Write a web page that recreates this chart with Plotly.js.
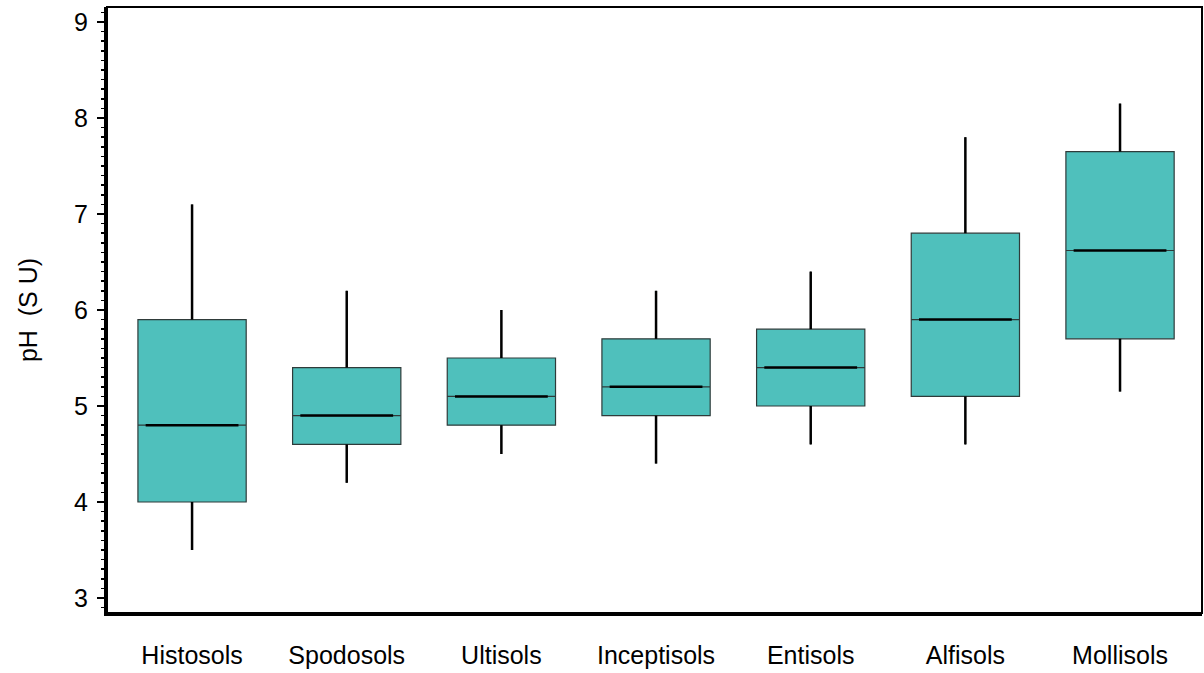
<!DOCTYPE html>
<html>
<head>
<meta charset="utf-8">
<script src="https://cdn.plot.ly/plotly-3.0.1.min.js"></script>
<style>html,body{margin:0;padding:0;background:#fff;}#chart{width:1204px;height:673px;}</style>
</head>
<body>
<div id="chart"></div>
<script>
var categories = ["Histosols", "Spodosols", "Ultisols", "Inceptisols", "Entisols", "Alfisols", "Mollisols"];
var lowerWhisker = [3.5, 4.2, 4.5, 4.4, 4.6, 4.6, 5.15];
var q1Values = [4.0, 4.6, 4.8, 4.9, 5.0, 5.1, 5.7];
var medianValues = [4.8, 4.9, 5.1, 5.2, 5.4, 5.9, 6.62];
var q3Values = [5.9, 5.4, 5.5, 5.7, 5.8, 6.8, 7.65];
var upperWhisker = [7.1, 6.2, 6.0, 6.2, 6.4, 7.8, 8.15];

var pos = categories.map(function(c, i){ return i; });

var boxTrace = {
  type: 'box',
  x: pos,
  q1: q1Values,
  median: medianValues,
  q3: q3Values,
  lowerfence: lowerWhisker,
  upperfence: upperWhisker,
  width: 0.70,
  whiskerwidth: 0,
  fillcolor: '#4FC0BC',
  line: {color: '#2f3b3a', width: 1.2},
  boxpoints: false,
  hoverinfo: 'skip',
  showlegend: false
};

var wx = [], wy = [], mx = [], my = [];
pos.forEach(function(p, i){
  wx.push(p, p, null, p, p, null);
  wy.push(upperWhisker[i], q3Values[i], null, q1Values[i], lowerWhisker[i], null);
  mx.push(p - 0.30, p + 0.30, null);
  my.push(medianValues[i], medianValues[i], null);
});

var whiskers = {
  type: 'scatter', mode: 'lines', x: wx, y: wy,
  line: {color: '#000', width: 2.5}, hoverinfo: 'skip', showlegend: false, connectgaps: false
};
var medians = {
  type: 'scatter', mode: 'lines', x: mx, y: my,
  line: {color: '#000', width: 2.5}, hoverinfo: 'skip', showlegend: false, connectgaps: false
};

var fontFam = '"Liberation Sans", Arial, Helvetica, sans-serif';

var layout = {
  width: 1204, height: 673,
  margin: {l: 107, r: 2, t: 7, b: 60},
  paper_bgcolor: '#fff', plot_bgcolor: '#fff',
  font: {family: fontFam, color: '#000', size: 25},
  showlegend: false,
  xaxis: {
    range: [-0.55, 6.53],
    tickvals: pos, ticktext: categories,
    showgrid: false, zeroline: false,
    showline: true, linewidth: 3, linecolor: '#000',
    ticks: '', ticklabelstandoff: 18,
    tickfont: {size: 25}
  },
  yaxis: {
    range: [2.844, 9.156],
    tickvals: [3,4,5,6,7,8,9],
    showgrid: false, zeroline: false,
    showline: true, linewidth: 3, linecolor: '#000',
    ticks: 'outside', ticklen: 7, tickwidth: 1.5, tickcolor: '#000',
    ticklabelstandoff: 4,
    tickfont: {size: 25},
    minor: {dtick: 0.1, ticks: 'outside', ticklen: 3, tickwidth: 1.5, tickcolor: '#000', showgrid: false},
    title: {text: 'pH  (S U)', font: {size: 25}, standoff: 30}
  },
  shapes: [{
    type: 'rect', xref: 'paper', yref: 'paper', x0: 0, x1: 1, y0: 0, y1: 1,
    line: {color: '#000', width: 2}
  }]
};

Plotly.newPlot('chart', [boxTrace, whiskers, medians], layout, {displayModeBar: false, staticPlot: true});
</script>
</body>
</html>
